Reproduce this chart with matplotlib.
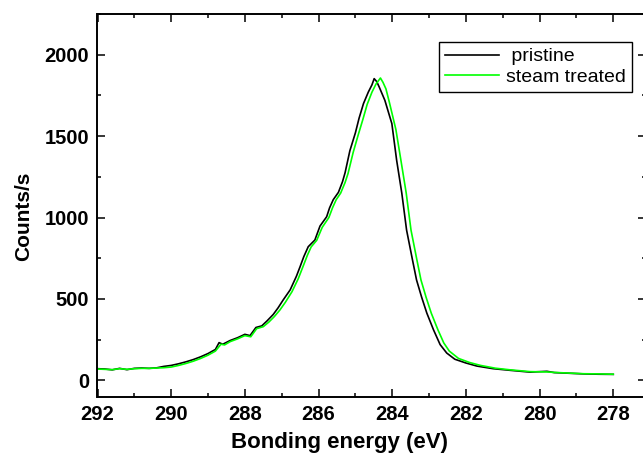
import matplotlib
matplotlib.use("Agg")
from matplotlib import pyplot as plt
from matplotlib.ticker import MultipleLocator

# binding energy (eV) and counts/s
be_pristine = [292.0, 291.8, 291.6, 291.4, 291.2, 291.0, 290.8, 290.6, 290.4, 290.2,
               290.0, 289.8, 289.6, 289.4, 289.2, 289.0, 288.8, 288.7, 288.6, 288.4,
               288.2, 288.0, 287.86, 287.7, 287.54, 287.4, 287.23, 287.1, 286.96, 286.77,
               286.6, 286.5, 286.4, 286.28, 286.1, 285.96, 285.78, 285.7, 285.6, 285.46,
               285.35, 285.28, 285.15, 285.0, 284.9, 284.78, 284.65, 284.55, 284.49, 284.42,
               284.35, 284.2, 284.01, 283.88, 283.74, 283.61, 283.45, 283.34, 283.2, 283.06,
               282.88, 282.7, 282.52, 282.3, 282.0, 281.7, 281.26, 280.8, 280.26, 279.8,
               279.6, 279.2, 278.8, 278.4, 278.0]
cps_pristine = [72, 70, 65, 74, 66, 74, 76, 74, 77, 86,
                92, 102, 114, 128, 145, 165, 190, 232, 222, 245,
                262, 283, 275, 325, 335, 365, 405, 445, 494, 556,
                640, 699, 760, 821, 862, 948, 1005, 1060, 1110, 1155,
                1220, 1275, 1410, 1520, 1610, 1700, 1770, 1815, 1853, 1835,
                1800, 1720, 1577, 1352, 1150, 923, 740, 617, 510, 413,
                311, 220, 168, 130, 107, 88, 72, 62, 51, 56,
                48, 44, 40, 38, 37]

be_steam = [292.0, 291.8, 291.6, 291.4, 291.2, 291.0, 290.8, 290.6, 290.4, 290.2,
            290.0, 289.8, 289.6, 289.4, 289.2, 289.0, 288.8, 288.65, 288.55, 288.4,
            288.2, 288.0, 287.84, 287.68, 287.5, 287.35, 287.2, 287.05, 286.9, 286.72,
            286.55, 286.42, 286.3, 286.2, 286.05, 285.9, 285.72, 285.62, 285.52, 285.4,
            285.28, 285.2, 285.06, 284.92, 284.8, 284.68, 284.55, 284.44, 284.32, 284.25,
            284.17, 284.08, 283.9, 283.77, 283.62, 283.49, 283.33, 283.22, 283.08, 282.94,
            282.76, 282.6, 282.45, 282.2, 281.9, 281.6, 281.2, 280.8, 280.26, 279.8,
            279.6, 279.2, 278.8, 278.4, 278.0]
cps_steam = [70, 68, 66, 72, 68, 72, 74, 74, 76, 78,
             82, 92, 104, 118, 135, 155, 180, 222, 218, 238,
             255, 275, 268, 318, 330, 358, 392, 432, 480, 545,
             625, 700, 770, 820, 860, 940, 1000, 1060, 1110, 1150,
             1215, 1270, 1400, 1510, 1600, 1695, 1770, 1820, 1857, 1830,
             1790, 1710, 1540, 1360, 1150, 923, 740, 617, 510, 413,
             311, 230, 180, 135, 110, 92, 75, 65, 54, 52,
             49, 45, 41, 40, 38]

plt.rcParams['font.family'] = ['Liberation Sans', 'DejaVu Sans']

fig = plt.figure(figsize=(6.43, 4.57), dpi=100)
W, H = 643.0, 457.0
x0, x1 = 97.5, 646.0
y0, y1 = 396.7, 14.0
ax = fig.add_axes([x0 / W, 1 - y0 / H, (x1 - x0) / W, (y0 - y1) / H])

ax.plot(be_pristine, cps_pristine, color='black', lw=1.2, label=' pristine')
ax.plot(be_steam, cps_steam, color='#00ff00', lw=1.2, label='steam treated')

ax.set_xlim(292, 292 - (x1 - x0) / 36.84)
ax.set_ylim(-100, 2250)
ax.xaxis.set_major_locator(MultipleLocator(2))
ax.xaxis.set_minor_locator(MultipleLocator(1))
ax.yaxis.set_major_locator(MultipleLocator(500))
ax.yaxis.set_minor_locator(MultipleLocator(250))

ax.tick_params(which='both', direction='in', top=True, right=True, width=1.1)
ax.tick_params(which='major', length=5.5, labelsize=14.5, pad=6)
ax.tick_params(which='minor', length=3)
for lab in ax.get_xticklabels() + ax.get_yticklabels():
    lab.set_fontweight('bold')
for sp in ax.spines.values():
    sp.set_linewidth(1.4)

ax.set_xlabel('Bonding energy (eV)', fontsize=16, fontweight='bold')
ax.set_ylabel('Counts/s', fontsize=15, fontweight='bold')
# label anchors: top edge of x label, right edge of rotated y label
ax.xaxis.set_label_coords((340 - x0) / (x1 - x0), (y0 - 432) / (y0 - y1), transform=ax.transAxes)
ax.yaxis.set_label_coords((33 - x0) / (x1 - x0), (y0 - 216) / (y0 - y1), transform=ax.transAxes)

leg = ax.legend(loc='upper right', bbox_to_anchor=((632 - x0) / (x1 - x0), (y0 - 42) / (y0 - y1)),
                fontsize=14, frameon=True, fancybox=False, framealpha=1, edgecolor='black',
                handlelength=2.75, handletextpad=0.4, labelspacing=0.15, borderpad=0.3,
                borderaxespad=0)
leg.get_frame().set_linewidth(1.0)

fig.savefig('out.png', dpi=100)
